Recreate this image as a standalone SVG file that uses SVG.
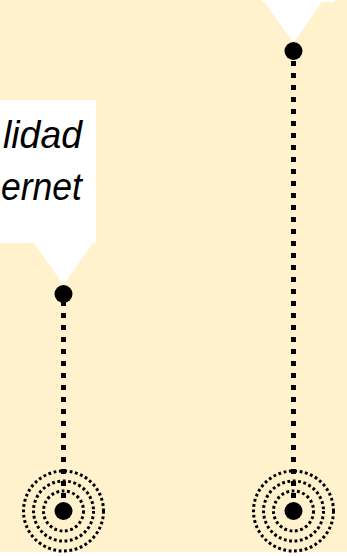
<svg xmlns="http://www.w3.org/2000/svg" width="347" height="556" viewBox="0 0 347 556">
  <style>
    .bg { fill: #FFF2CC; }
    .box { fill: #FFFFFF; }
    .label { font-family: "Liberation Sans", Arial, sans-serif; font-style: italic; font-size: 38px; fill: #000000; }
    .pointer { fill: #FFFFFF; }
    .dot { fill: #000000; }
    .dash { stroke: #000000; stroke-width: 5; stroke-dasharray: 5 7; fill: none; }
    .ring { stroke: #000000; stroke-width: 3; stroke-dasharray: 2.8 2.6; fill: none; }
  </style>
  <rect class="bg" x="0" y="0" width="347" height="552"/>
  <rect x="0" y="552" width="347" height="4" fill="#FFFFFF"/>

  <g id="callout-left">
    <rect class="box" x="0" y="100" width="96" height="143"/>
    <text class="label" x="3" y="147.5" textLength="79" lengthAdjust="spacingAndGlyphs">lidad</text>
    <text class="label" x="1" y="200" textLength="81" lengthAdjust="spacingAndGlyphs">ernet</text>
    <polygon class="pointer" points="34,243 93,243 63.5,285"/>
    <circle class="dot" cx="63.5" cy="294" r="9"/>
  </g>

  <g id="callout-right">
    <rect class="box" x="262" y="0" width="73" height="2"/>
    <polygon class="pointer" points="263,0 323,0 293.5,43"/>
    <circle class="dot" cx="293.5" cy="51" r="9"/>
  </g>

  <g id="connectors">
    <line class="dash" x1="63.5" y1="301" x2="63.5" y2="502"/>
    <line class="dash" x1="293.5" y1="61" x2="293.5" y2="502"/>
  </g>

  <g id="target-left">
    <circle class="ring" cx="63.5" cy="511" r="20"/>
    <circle class="ring" cx="63.5" cy="511" r="30"/>
    <circle class="ring" cx="63.5" cy="511" r="40"/>
    <circle class="dot" cx="63.5" cy="511" r="9"/>
  </g>

  <g id="target-right">
    <circle class="ring" cx="293.5" cy="511" r="20"/>
    <circle class="ring" cx="293.5" cy="511" r="30"/>
    <circle class="ring" cx="293.5" cy="511" r="40"/>
    <circle class="dot" cx="293.5" cy="511" r="9"/>
  </g>
</svg>
